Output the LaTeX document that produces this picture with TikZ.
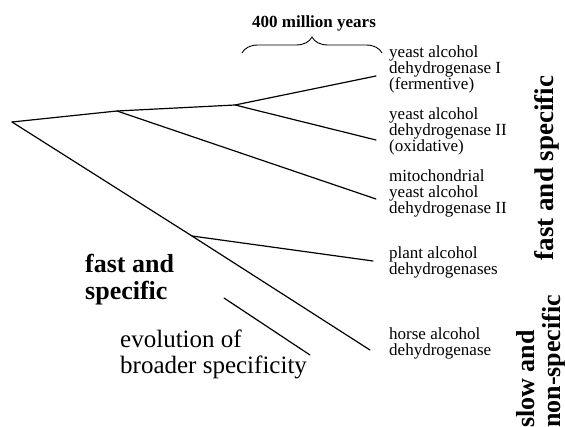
\documentclass[tikz,border=0pt]{standalone}
\usepackage{fontspec}
\setmainfont{Liberation Serif}
\usetikzlibrary{decorations.pathreplacing}
\tikzset{branch/.style={line width=1.2pt,line cap=round},
  leaflab/.style={anchor=west,align=left,inner sep=0pt,font=\fontsize{17}{16}\selectfont},
  bigbold/.style={align=left,inner sep=0pt,font=\fontsize{26}{26}\selectfont\bfseries}}

\begin{document}
\begin{tikzpicture}[x=1pt,y=-1pt]
\useasboundingbox (0,0) rectangle (565,427);
% tree
\coordinate (root) at (12,122); \coordinate (nA) at (117,111); \coordinate (nB) at (235,105); \coordinate (nC) at (192,236);
\coordinate (e1) at (376,76); \coordinate (e2) at (376,140); \coordinate (e3) at (376,199); \coordinate (e4) at (373,261); \coordinate (e5) at (370,350);
\draw[branch] (root) -- (nA) -- (nB) -- (e1); \draw[branch] (nB) -- (e2); \draw[branch] (nA) -- (e3);
\draw[branch] (root) -- (nC) -- (e5); \draw[branch] (nC) -- (e4);
\coordinate (s1) at (224,298); \coordinate (s2) at (310,355); \draw[branch] (s1) -- (s2);
% time scale
\coordinate (b1) at (242,53); \coordinate (b2) at (382,53);
\draw[line width=0.9pt,decorate,decoration={brace,amplitude=16pt,aspect=0.5}] (b1) -- (b2);
\node[inner sep=0pt,font=\fontsize{17}{17}\selectfont\bfseries] (scale) at (314,23) {400 million years};
% enzymes
\node[leaflab] (lab1) at (389,69.5) {yeast alcohol\\dehydrogenase I\\(fermentive)};
\node[leaflab] (lab2) at (389,131) {yeast alcohol\\dehydrogenase II\\(oxidative)};
\node[leaflab] (lab3) at (389,193) {mitochondrial\\yeast alcohol\\dehydrogenase II};
\node[leaflab] (lab4) at (389,262) {plant alcohol\\dehydrogenases};
\node[leaflab] (lab5) at (389,343) {horse alcohol\\dehydrogenase};
% properties
\node[bigbold,rotate=90,font=\fontsize{27}{27}\selectfont\bfseries] (fastR) at (547,168) {fast and specific};
\node[bigbold,rotate=90,anchor=north west] (slowR) at (516,428) {slow and\\non-specific};
\node[bigbold,anchor=north west,font=\fontsize{26}{27}\selectfont\bfseries] (fastL) at (85,254) {fast and\\specific};
\node[anchor=north west,align=left,inner sep=0pt,font=\fontsize{25}{26}\selectfont] (evol) at (120,330) {evolution of\\broader specificity};
\end{tikzpicture}
\end{document}
